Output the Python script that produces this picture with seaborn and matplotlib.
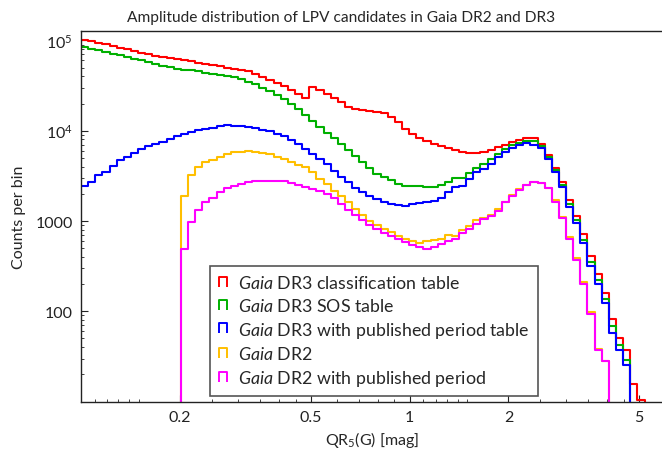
import numpy as np
import pandas as pd
import matplotlib
matplotlib.use("Agg")
import matplotlib.pyplot as plt
import seaborn as sns
from matplotlib.lines import Line2D
from matplotlib.path import Path
from matplotlib.ticker import FixedLocator, FixedFormatter, NullFormatter

# log bins, d(ln x) = 0.05, starting at 0.1 mag
bin_edges = 0.1 * np.exp(0.05 * np.arange(82))
bin_mid = np.sqrt(bin_edges[:-1] * bin_edges[1:])

# counts per bin
dr3_class = [101600, 98200, 94100, 90300, 86500, 82800, 79400, 76100, 72900, 69900,
             67000, 65400, 64200, 61700, 60100, 58500, 56500, 55100, 53700, 51500,
             49700, 48500, 47300, 45400, 42700, 39300, 36100, 33700, 30900, 27900,
             25200, 22900, 30300, 28200, 25500, 23000, 20600, 18500, 17500, 16900,
             16600, 16200, 15900, 14000, 12400, 10400, 9200, 8400, 7700, 7100,
             6700, 6370, 6150, 5750, 5600, 5600, 5750, 6150, 6530, 6920,
             7530, 7940, 8200, 8200, 7100, 5400, 3850, 2700, 1720, 1130,
             710, 408, 258, 160, 82, 50, 37, 15.5, 10.4, 0, 0]
dr3_sos = [84300, 80800, 77400, 74200, 71100, 68200, 65400, 62600, 60000, 57500,
           54200, 51500, 50600, 48500, 47300, 46500, 45400, 43800, 42700, 41600,
           39900, 39000, 37000, 35000, 32500, 30000, 27500, 25000, 22500, 20000,
           17500, 15000, 12900, 11000, 9500, 8300, 7100, 6100, 5250, 4550,
           3900, 3300, 3050, 2860, 2550, 2450, 2420, 2420, 2380, 2350,
           2500, 2720, 2960, 3000, 3390, 3820, 4260, 4850, 5500, 6250,
           6920, 7400, 7700, 7700, 6700, 5100, 3700, 2500, 1550, 1020,
           620, 350, 220, 138, 68, 42, 29, 0, 0, 0, 0]
dr3_period = [2420, 2700, 3200, 3480, 4030, 4690, 5100, 5650, 6200, 6700,
              7050, 7480, 8000, 8700, 9250, 9650, 10070, 10500, 10800, 11200,
              11500, 11300, 11200, 11000, 10700, 10200, 9800, 9250, 8650, 7900,
              7200, 6350, 5500, 4870, 4230, 3610, 3090, 2690, 2330, 2100,
              1910, 1750, 1630, 1540, 1500, 1450, 1540, 1580, 1630, 1670,
              1820, 2070, 2360, 2450, 2910, 3450, 3760, 4270, 5060, 5840,
              6360, 6920, 7230, 7000, 6400, 4800, 3500, 2350, 1430, 950,
              565, 316, 200, 125, 58, 37, 25.5, 0, 0, 0, 0]
dr2_all = [0, 0, 0, 0, 0, 0, 0, 0, 0, 0,
           0, 0, 0, 0, 1870, 3200, 3950, 4490, 4760, 5100,
           5550, 5750, 5850, 5900, 5850, 5700, 5450, 5150, 4800, 4500,
           4200, 3920, 3450, 2950, 2550, 2160, 1900, 1610, 1360, 1160,
           1000, 900, 813, 748, 686, 631, 604, 565, 604, 620,
           631, 698, 686, 800, 885, 1030, 1070, 1160, 1360, 1630,
           1940, 2250, 2500, 2700, 2660, 2300, 1700, 1100, 660, 385,
           210, 98, 38, 28, 0, 0, 0, 0, 0, 0, 0]
dr2_period = [0, 0, 0, 0, 0, 0, 0, 0, 0, 0,
              0, 0, 0, 0, 490, 970, 1310, 1620, 1800, 2070,
              2300, 2420, 2560, 2670, 2740, 2750, 2780, 2750, 2760, 2660,
              2500, 2370, 2260, 2150, 2000, 1790, 1560, 1340, 1180, 1030,
              910, 815, 730, 675, 630, 580, 540, 510, 495, 520,
              560, 600, 630, 740, 810, 925, 1050, 1140, 1300, 1610,
              1900, 2220, 2500, 2680, 2640, 2300, 1620, 1070, 640, 370,
              200, 94, 37.5, 28, 0, 0, 0, 0, 0, 0, 0]

series = [dr3_class, dr3_sos, dr3_period, dr2_all, dr2_period]
colors = ['#ff0000', '#00b000', '#0000ff', '#ffbf00', '#ff00ff']
labels = [r'$\mathit{Gaia}$ DR3 classification table',
          r'$\mathit{Gaia}$ DR3 SOS table',
          r'$\mathit{Gaia}$ DR3 with published period table',
          r'$\mathit{Gaia}$ DR2',
          r'$\mathit{Gaia}$ DR2 with published period']

sns.set_style("ticks")
plt.rcParams['font.family'] = ['Lato', 'DejaVu Sans']
plt.rcParams['mathtext.fontset'] = 'custom'
plt.rcParams['mathtext.rm'] = 'Lato'
plt.rcParams['mathtext.it'] = 'Lato:italic'
plt.rcParams['font.size'] = 11

fig = plt.figure(figsize=(6.62, 4.56), dpi=100)
ax = fig.add_axes([0.1224, 0.1162, 0.8776, 0.8136])

log_bins = list(np.log10(bin_edges))  # seaborn bins live in log space here
for vals, col in zip(series, colors):
    df = pd.DataFrame({'amp': bin_mid, 'n': np.asarray(vals, dtype=float)})
    sns.histplot(data=df, x='amp', weights='n', bins=log_bins,
                 element='step', fill=False, color=col, linewidth=1.5,
                 log_scale=(True, False), ax=ax)

# log counts; empty bins are clipped so the steps drop to the floor
ax.set_yscale('log', nonpositive='clip')
ax.set_xlim(0.1, 5.87)
ax.set_ylim(9.9, 1.27e5)

ax.xaxis.set_major_locator(FixedLocator([0.2, 0.5, 1, 2, 5]))
ax.xaxis.set_major_formatter(FixedFormatter(['0.2', '0.5', '1', '2', '5']))
ax.xaxis.set_minor_locator(FixedLocator([0.11, 0.12, 0.13, 0.14, 0.15,
                                         0.25, 0.3, 0.35, 0.4, 0.45,
                                         0.6, 0.7, 0.8, 0.9,
                                         1.1, 1.2, 1.3, 1.4, 1.5,
                                         2.5, 3, 3.5, 4, 4.5]))
ax.xaxis.set_minor_formatter(NullFormatter())
ax.yaxis.set_major_locator(FixedLocator([100, 1000, 1e4, 1e5]))
ax.yaxis.set_major_formatter(FixedFormatter(['100', '1000', r'$10^4$', r'$10^5$']))
ax.yaxis.set_minor_formatter(NullFormatter())

ax.tick_params(which='both', direction='in', top=False, right=False,
               colors='#222222', labelcolor='#222222')
ax.tick_params(which='major', length=5, width=0.8, pad=6, labelsize=11.5)
ax.tick_params(which='minor', length=2.5, width=0.6)
for s in ['left', 'bottom', 'top']:
    ax.spines[s].set_color('#222222')
    ax.spines[s].set_linewidth(1.0)
ax.spines['right'].set_visible(False)

ax.set_xlabel(r'QR$_5$(G) [mag]', fontsize=11.5, labelpad=3)
ax.set_ylabel('Counts per bin', fontsize=11.5, labelpad=7)
ax.set_title('Amplitude distribution of LPV candidates in Gaia DR2 and DR3',
             fontsize=11.2, x=0.448, pad=7)

# legend handle shaped like an open step bin
bin_mark = Path([(-0.35, -0.5), (-0.35, 0.5), (0.35, 0.5), (0.35, -0.5)],
                [Path.MOVETO, Path.LINETO, Path.LINETO, Path.LINETO])
handles = [Line2D([0], [0], marker=bin_mark, markersize=7.5, markerfacecolor='none',
                  markeredgecolor=c, markeredgewidth=1.4, linestyle='none')
           for c in colors]
leg = ax.legend(handles, labels, loc='lower left', bbox_to_anchor=(0.222, 0.016),
                fontsize=12.8, frameon=True, fancybox=False, framealpha=1,
                edgecolor='#555555', borderpad=0.45, labelspacing=0.32,
                handlelength=0.55, handletextpad=0.6, borderaxespad=0)
leg.get_frame().set_linewidth(1.2)

fig.savefig('out.png', dpi=100)
